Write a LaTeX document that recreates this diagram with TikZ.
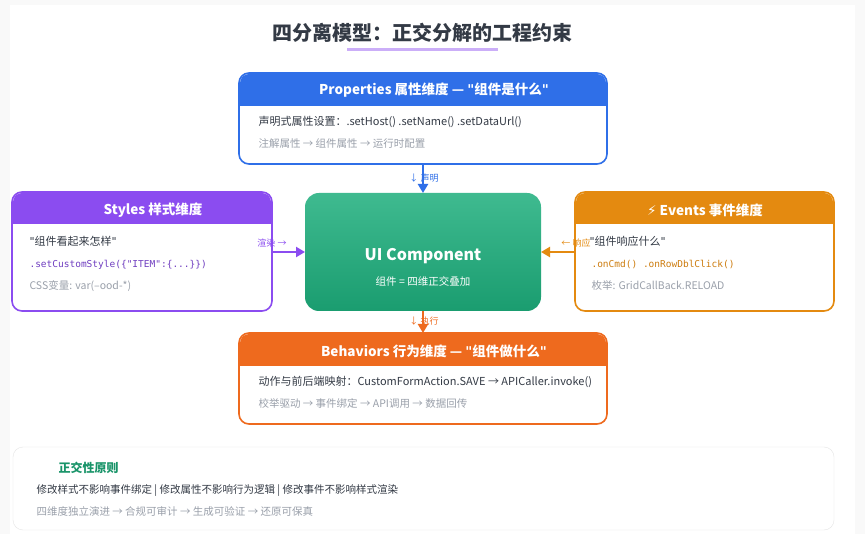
\documentclass[tikz,border=0pt]{standalone}
\usepackage{fontspec}
\setmainfont{Noto Sans CJK SC}
\setmonofont{DejaVu Sans Mono}
\newfontfamily\symfont{DejaVu Sans}
\newcommand\dq{{\symfont\char34\relax}}
\usetikzlibrary{arrows.meta}
\definecolor{propblue}{HTML}{2F6FE8}
\definecolor{stylepurple}{HTML}{8B4CF0}
\definecolor{evorange}{HTML}{E48A10}
\definecolor{behorange}{HTML}{EE6A1E}
\definecolor{compgreen}{HTML}{1DAE7C}
\definecolor{txtdark}{HTML}{333A45}
\definecolor{txtgrey}{HTML}{9AA0AA}
\begin{document}
\begin{tikzpicture}[x=1pt,y=-1pt]
      % Define styles
      \tikzset{
        card/.style={draw=#1, line width=1.6pt, rounded corners=10pt, fill=white},
        head/.style={font=\bfseries\fontsize{13.5}{15}\selectfont, text=white},
        line1/.style={anchor=west, font=\fontsize{11}{13}\selectfont, text=txtdark},
        line2/.style={anchor=west, font=\fontsize{10.5}{12}\selectfont, text=txtgrey},
        code/.style={anchor=west, font=\ttfamily\fontsize{9.5}{11}\selectfont, text=#1},
        link/.style={-{Triangle[length=9pt,width=10pt]}, line width=2.2pt, draw=#1},
        tag/.style={font=\fontsize{9}{10}\selectfont, text=#1}
      }
      \fill[gray!5] (0,0) rectangle (865,534);
      \fill[white] (10,5) rectangle (855,534);

      % Title
      \node[font=\bfseries\fontsize{20}{24}\selectfont, text=txtdark] (title) at (422,33) {四分离模型：正交分解的工程约束};
      \fill[stylepurple!45] (347,48) rectangle (498,51);

      % Properties
      \draw[card=propblue] (239,73) rectangle (607,164);
      \fill[propblue, rounded corners=9pt] (240,74) rectangle (606,106);
      \fill[propblue] (240,95) rectangle (606,106);
      \node[head] (prop) at (434,90) {Properties 属性维度 — \dq 组件是什么\dq};
      \node[line1] (prop1) at (255,122) {声明式属性设置：.setHost() .setName() .setDataUrl()};
      \node[line2] (prop2) at (255,144) {注解属性 → 组件属性 → 运行时配置};

      % Styles
      \draw[card=stylepurple] (12,192) rectangle (272,311);
      \fill[stylepurple, rounded corners=9pt] (13,193) rectangle (271,224);
      \fill[stylepurple] (13,212) rectangle (271,224);
      \node[head] (sty) at (153,210) {Styles 样式维度};
      \node[line1] (sty1) at (26,241) {\dq 组件看起来怎样\dq};
      \node[code=stylepurple!80!black] (sty2) at (26,265) {.setCustomStyle(\{"ITEM":\{...\}\})};
      \node[line2] (sty3) at (26,286) {CSS变量: var(--ood-*)};

      % Events
      \draw[card=evorange] (575,192) rectangle (834,311);
      \fill[evorange, rounded corners=9pt] (576,193) rectangle (833,224);
      \fill[evorange] (576,212) rectangle (833,224);
      \node[head] (ev) at (705,210) {{\symfont ⚡} Events 事件维度};
      \node[line1] (ev1) at (586,241) {\dq 组件响应什么\dq};
      \node[code=evorange!90!black] (ev2) at (588,264) {.onCmd() .onRowDblClick()};
      \node[line2] (ev3) at (588,286) {枚举: GridCallBack.RELOAD};

      % Component
      \shade[top color=compgreen!85!white, bottom color=compgreen!90!black, rounded corners=14pt] (305,193) rectangle (541,311);
      \node[text=white, font=\bfseries\fontsize{16}{18}\selectfont] (comp) at (423,256) {UI Component};
      \node[text=white, font=\fontsize{10.5}{12}\selectfont] (compsub) at (423,281) {组件 = 四维正交叠加};

      % Behaviors
      \draw[card=behorange] (239,333) rectangle (607,424);
      \fill[behorange, rounded corners=9pt] (240,334) rectangle (606,366);
      \fill[behorange] (240,355) rectangle (606,366);
      \node[head] (beh) at (434,351) {Behaviors 行为维度 — \dq 组件做什么\dq};
      \node[line1] (beh1) at (255,382) {动作与前后端映射：CustomFormAction.SAVE → APICaller.invoke()};
      \node[line2] (beh2) at (255,404) {校举驱动 → 事件绑定 → API调用 → 数据回传};

      % Connections
      \coordinate (pb) at (423,164); \coordinate (ct) at (423,193);
      \coordinate (sr) at (272,252); \coordinate (cl) at (305,252);
      \coordinate (el) at (575,252); \coordinate (cr) at (541,252);
      \coordinate (cb) at (423,311); \coordinate (bt) at (423,333);
      \draw[link=propblue] (pb) -- (ct);
      \draw[link=stylepurple] (sr) -- (cl);
      \draw[link=evorange] (el) -- (cr);
      \draw[link=behorange] (cb) -- (bt);
      \node[tag=propblue] (lab1) at (424,178) {↓ 声明};
      \node[tag=stylepurple] (lab2) at (272,243) {渲染 →};
      \node[tag=evorange] (lab3) at (576,243) {← 响应};
      \node[tag=behorange] (lab4) at (424,321) {↓ 执行};

      % Principles
      \draw[gray!20, fill=white, rounded corners=10pt] (13,447) rectangle (834,530);
      \node[anchor=west, text=compgreen!85!black, font=\bfseries\fontsize{12}{14}\selectfont] (pr) at (55,468) {正交性原则};
      \node[anchor=west, text=txtdark, font=\fontsize{10.5}{12}\selectfont] (pr1) at (33,491) {修改样式不影响事件绑定 | 修改属性不影响行为逻辑 | 修改事件不影响样式渲染};
      \node[anchor=west, text=txtgrey, font=\fontsize{10.5}{12}\selectfont] (pr2) at (33,512) {四维度独立演进 → 合规可审计 → 生成可验证 → 还原可保真};
\end{tikzpicture}
\end{document}
